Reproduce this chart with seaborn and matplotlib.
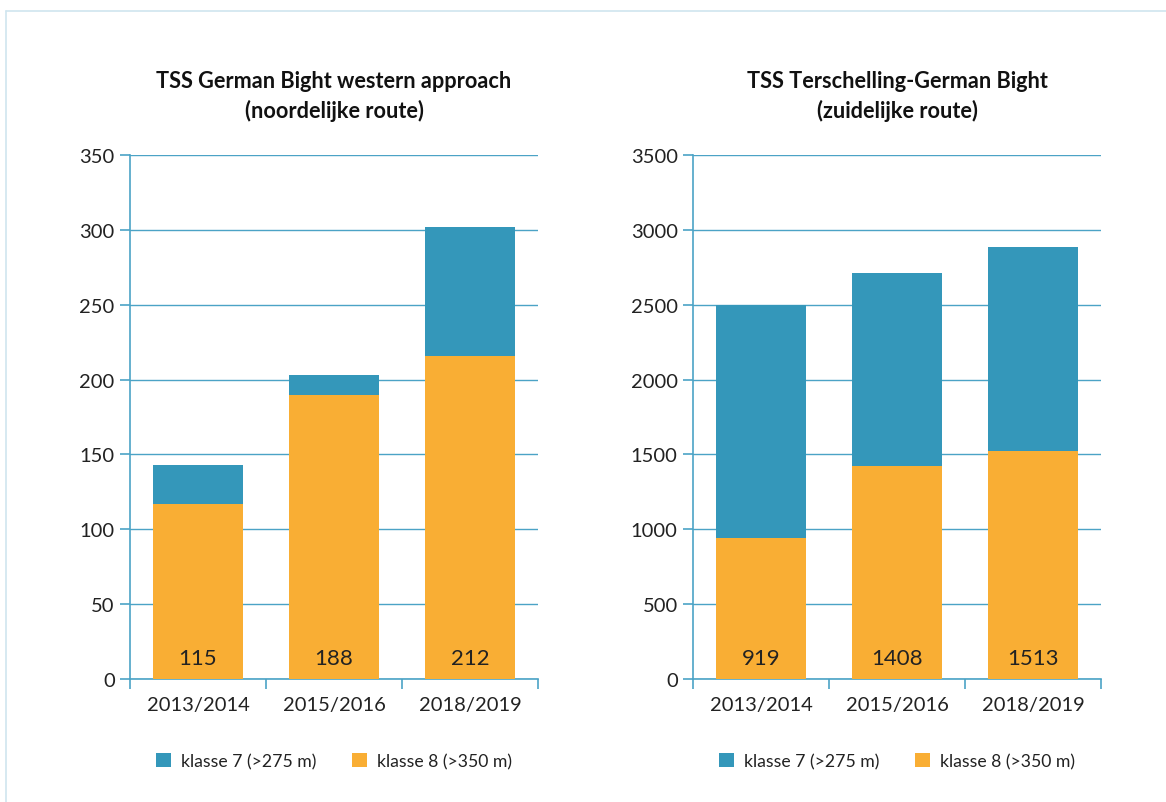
import matplotlib
matplotlib.use("Agg")
import matplotlib.pyplot as plt
import matplotlib.transforms as mtransforms
from matplotlib.lines import Line2D
from matplotlib.patches import Patch
import seaborn as sns
import pandas as pd

# ==============================
# DATA
# ==============================
periods = ["2013/2014", "2015/2016", "2018/2019"]

# left panel: TSS German Bight western approach
north_k8 = [117, 190, 216]
north_k7 = [26, 13, 86]
north_labels = ["115", "188", "212"]

# right panel: TSS Terschelling-German Bight
south_k8 = [940, 1420, 1520]
south_k7 = [1557, 1293, 1367]
south_labels = ["919", "1408", "1513"]

titles = ["TSS German Bight western approach\n(noordelijke route)",
          "TSS Terschelling-German Bight\n(zuidelijke route)"]
legend_names = ["klasse 7 (>275 m)", "klasse 8 (>350 m)"]

BLUE = "#3497BA"
ORANGE = "#F9AE34"
LINE = "#4BA3C6"

# ==============================
# STYLE
# ==============================
sns.set_theme(style="white")
plt.rcParams["font.family"] = ["Lato", "DejaVu Sans"]

fig = plt.figure(figsize=(11.66, 8.03), dpi=100)

W, H = 1166, 803
panels = [
    (130, north_k8, north_k7, north_labels, 350, 50),
    (693, south_k8, south_k7, south_labels, 3500, 500),
]

for i, (x0, k8, k7, labels, ymax, step) in enumerate(panels):
    ax = fig.add_axes([x0 / W, (H - 680) / H, 408 / W, 524 / H])
    df = pd.DataFrame({
        "periode": periods,
        "k8": k8,
        "totaal": [a + b for a, b in zip(k8, k7)],
    })
    sns.barplot(data=df, x="periode", y="totaal", color=BLUE, width=0.655,
                saturation=1, ax=ax, zorder=3)
    sns.barplot(data=df, x="periode", y="k8", color=ORANGE, width=0.655,
                saturation=1, ax=ax, zorder=3)
    for p in ax.patches:
        p.set_linewidth(0)

    ax.set_xlim(-0.5, 2.5)
    ax.set_ylim(0, ymax)
    ax.set_yticks(range(0, ymax + 1, step))
    ax.grid(axis="y", color=LINE, linewidth=1, zorder=0)
    ax.set_axisbelow(True)
    for s in ["top", "right"]:
        ax.spines[s].set_visible(False)
    for s in ["left", "bottom"]:
        ax.spines[s].set_color(LINE)
        ax.spines[s].set_linewidth(1.2)

    ax.set_xticks([-0.5, 0.5, 1.5, 2.5], minor=True)
    ax.tick_params(axis="x", which="major", length=0, pad=12,
                   labelsize=14.5, labelcolor="#222222")
    ax.tick_params(axis="x", which="minor", length=7, width=1.2, color=LINE,
                   direction="out", bottom=True)
    ax.tick_params(axis="y", length=7, width=1.2, color=LINE, left=True,
                   pad=4, labelsize=14.5, labelcolor="#222222")
    ax.set_xlabel("")
    ax.set_ylabel("")

    trans = mtransforms.blended_transform_factory(ax.transData, ax.transAxes)
    for j, lab in enumerate(labels):
        ax.text(j, 21 / 524, lab, transform=trans, ha="center", va="center",
                fontsize=16, color="#222222", zorder=5)

    ax.set_title(titles[i], fontsize=15.6, fontweight="bold", pad=27,
                 linespacing=1.45, color="#111111")

    handles = [Patch(facecolor=BLUE, edgecolor="none"),
               Patch(facecolor=ORANGE, edgecolor="none")]
    fig.legend(handles, legend_names, loc="center",
               bbox_to_anchor=((x0 + 204) / W, (H - 762) / H),
               ncol=2, frameon=False, fontsize=12.7, handlelength=0.85,
               handleheight=0.85, handletextpad=0.6, columnspacing=2.0,
               labelcolor="#222222")

# light outer frame
fig.add_artist(Line2D([6 / W, 1], [1 - 12 / H, 1 - 12 / H], color="#cfe5ef", lw=1.2))
fig.add_artist(Line2D([6 / W, 6 / W], [0, 1 - 12 / H], color="#cfe5ef", lw=1.2))

plt.savefig("out.png", dpi=100)
